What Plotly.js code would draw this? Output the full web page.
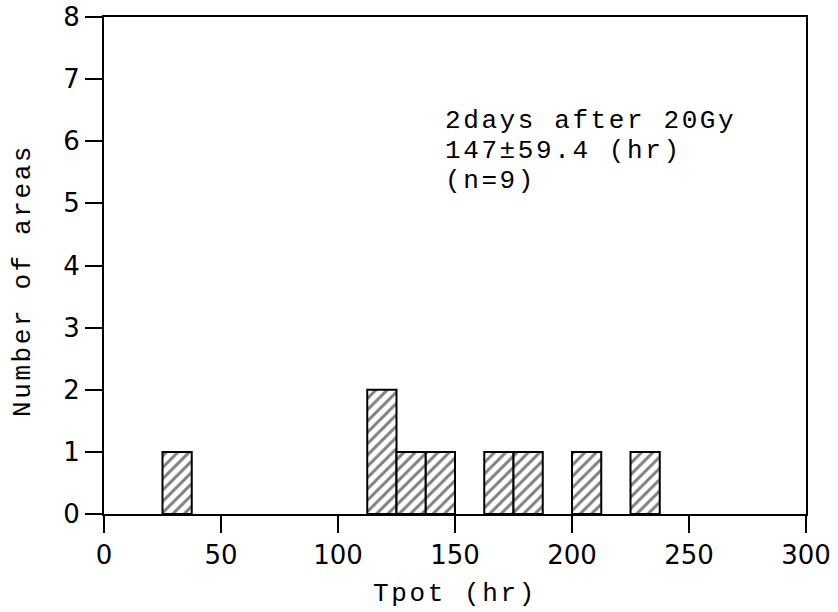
<!DOCTYPE html>
<html>
<head>
<meta charset="utf-8">
<script src="https://cdn.plot.ly/plotly-3.0.1.min.js"></script>
<style>
  html, body { margin: 0; padding: 0; background: #ffffff; }
  #chart { width: 838px; height: 612px; }
  /* typewriter-style spacing for the monospaced labels
     (global so Plotly's text measuring sees it too) */
  text.annotation-text,
  text.xtitle { letter-spacing: 2.6px; }
</style>
</head>
<body>
<div id="chart"></div>
<script>
// Histogram of Tpot values: left edge of each occupied bin and its count
const binStarts = [25, 112.5, 125, 137.5, 162.5, 175, 200, 225];
const counts = [1, 2, 1, 1, 1, 1, 1, 1];
const binWidth = 12.5;

// Axis ticks
const xTicks = [0, 50, 100, 150, 200, 250, 300];
const yTicks = [0, 1, 2, 3, 4, 5, 6, 7, 8];

// Text
const xTitle = "Tpot (hr)";
const yTitle = "Number of areas";
const noteLines = ["2days after 20Gy", "147\u00b159.4 (hr)", "(n=9)"];
const noteY = [6.32, 5.837, 5.354];

const mono = "'Courier New', 'Liberation Mono', monospace";
const sans = "'DejaVu Sans', sans-serif";
const monoSize = 26;

const trace = {
  type: "bar",
  x: binStarts,
  y: counts,
  width: binStarts.map(() => binWidth),
  offset: 0,
  marker: {
    color: "#ffffff",
    line: { color: "#000000", width: 2 },
    pattern: {
      shape: "/",
      size: 8,
      solidity: 0.36,
      fgcolor: "#000000",
      bgcolor: "#ffffff",
      fillmode: "overlay"
    }
  },
  hoverinfo: "x+y"
};

// One annotation per line of the note, so the line pitch stays tight
const annotations = noteLines.map((t, i) => ({
  text: t,
  xref: "x", yref: "y",
  x: 145.5, y: noteY[i],
  xanchor: "left", yanchor: "middle",
  borderpad: 0,
  showarrow: false,
  font: { family: mono, size: monoSize, color: "#000000" }
}));

annotations.push({
  text: yTitle,
  xref: "paper", yref: "paper",
  x: -0.1154, y: 0.4708,
  xanchor: "center", yanchor: "middle",
  textangle: -90,
  showarrow: false,
  font: { family: mono, size: monoSize, color: "#000000" }
});

const axisCommon = {
  showline: true,
  linecolor: "#000000",
  linewidth: 2,
  mirror: true,
  ticks: "outside",
  ticklen: 17,
  tickwidth: 2,
  tickcolor: "#000000",
  showgrid: false,
  zeroline: false,
  tickfont: { family: sans, size: 26, color: "#000000" }
};

const layout = {
  width: 838,
  height: 612,
  margin: { l: 104, r: 32, t: 17, b: 98 },
  paper_bgcolor: "#ffffff",
  plot_bgcolor: "#ffffff",
  showlegend: false,
  bargap: 0,
  xaxis: Object.assign({}, axisCommon, {
    range: [0, 300],
    tickvals: xTicks,
    ticktext: xTicks.map(String),
    title: { text: xTitle, font: { family: mono, size: monoSize, color: "#000000" }, standoff: 14 }
  }),
  yaxis: Object.assign({}, axisCommon, {
    range: [0, 8],
    tickvals: yTicks,
    ticktext: yTicks.map(String)
  }),
  annotations: annotations
};

Plotly.newPlot("chart", [trace], layout, { displayModeBar: false, staticPlot: true });
</script>
</body>
</html>
